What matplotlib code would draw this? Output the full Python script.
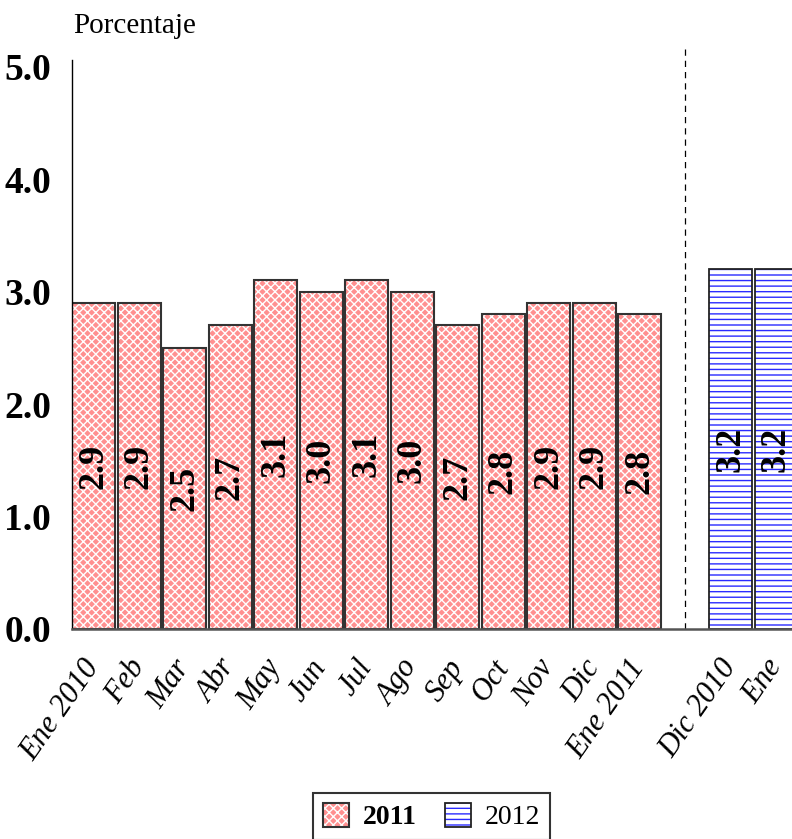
import numpy as np
import matplotlib
matplotlib.use("Agg")
import matplotlib.pyplot as plt
from matplotlib.patches import Patch

plt.rcParams['font.family'] = ['Liberation Serif', 'DejaVu Serif']
plt.rcParams['hatch.linewidth'] = 1.0

# ── Data ───────────────────────────────────────────────────────
months_2011 = ["Ene 2010", "Feb", "Mar", "Abr", "May", "Jun", "Jul",
               "Ago", "Sep", "Oct", "Nov", "Dic", "Ene 2011"]
values_2011 = [2.9, 2.9, 2.5, 2.7, 3.1, 3.0, 3.1, 3.0, 2.7, 2.8, 2.9, 2.9, 2.8]

months_2012 = ["Dic 2010", "Ene"]
values_2012 = [3.2, 3.2]

ytick_vals = [0.0, 1.0, 2.0, 3.0, 4.0, 5.0]

# ── Layout ─────────────────────────────────────────────────────
x1 = np.arange(len(values_2011))
x2 = np.arange(len(values_2012)) + len(values_2011) + 1
sep_x = len(values_2011)
width = 0.945

fig = plt.figure(figsize=(7.92, 8.39), dpi=100)
ax = fig.add_axes([0.091, 0.2503, 0.909, 0.678])

red_fill = "#ff9090"
blue_hatch = "#2a2aff"

# hatched fills, then outlines on top
ax.bar(x1, values_2011, width, color=red_fill, edgecolor="white",
       hatch="xxxx", linewidth=0)
ax.bar(x1, values_2011, width, fill=False, edgecolor="#333333", linewidth=1.5)
ax.bar(x2, values_2012, width, color="white", edgecolor=blue_hatch,
       hatch="---", linewidth=0)
ax.bar(x2, values_2012, width, fill=False, edgecolor="#222222", linewidth=1.3)

# value labels, centred in each bar
for xs, vs in [(x1, values_2011), (x2, values_2012)]:
    for x, v in zip(xs, vs):
        ax.text(x, v / 2, f"{v:.1f}", rotation=90, ha="center", va="center",
                fontsize=26, fontweight="bold", color="black")

# separator between the two periods
ax.axvline(sep_x, ymin=0, ymax=1.027, color="black", linestyle=(0, (5, 4)),
           linewidth=0.9, clip_on=False)

ax.set_xlim(-0.4725, 15.35)
ax.set_ylim(0, 5.06)
ax.set_yticks(ytick_vals)
ax.set_yticklabels([f"{v:.1f}" for v in ytick_vals], fontsize=27,
                   fontweight="bold")

ax.set_xticks(list(x1) + list(x2))
ax.set_xticklabels(months_2011 + months_2012, rotation=55, ha="right",
                   rotation_mode="anchor", va="center", fontsize=22,
                   fontstyle="italic")
ax.tick_params(axis="both", length=0)
ax.tick_params(axis="y", pad=15)
ax.tick_params(axis="x", pad=24)

for side in ["top", "right"]:
    ax.spines[side].set_visible(False)
ax.spines["left"].set_color("black")
ax.spines["left"].set_linewidth(1.0)
ax.spines["bottom"].set_color("#555555")
ax.spines["bottom"].set_linewidth(1.8)

fig.text(0.092, 0.961, "Porcentaje", fontsize=21, va="baseline", ha="left")

# ── Legend ─────────────────────────────────────────────────────
h2011 = (Patch(facecolor=red_fill, edgecolor="white", hatch="xxxx", linewidth=0),
         Patch(fill=False, edgecolor="#333333", linewidth=1.5))
h2012 = (Patch(facecolor="white", edgecolor=blue_hatch, hatch="---", linewidth=0),
         Patch(fill=False, edgecolor="#222222", linewidth=1.3))
leg = fig.legend([h2011, h2012], ["2011", "2012"], loc="upper center",
                 bbox_to_anchor=(0.545, 0.0548), ncol=2, fontsize=20,
                 frameon=True, fancybox=False, handlelength=0.95,
                 handleheight=0.95, columnspacing=1.0, handletextpad=0.5,
                 borderpad=0.35, borderaxespad=0)
leg.get_frame().set_edgecolor("black")
leg.get_frame().set_linewidth(1.5)
leg.get_texts()[0].set_fontweight("bold")

fig.savefig("out.png", dpi=100)
